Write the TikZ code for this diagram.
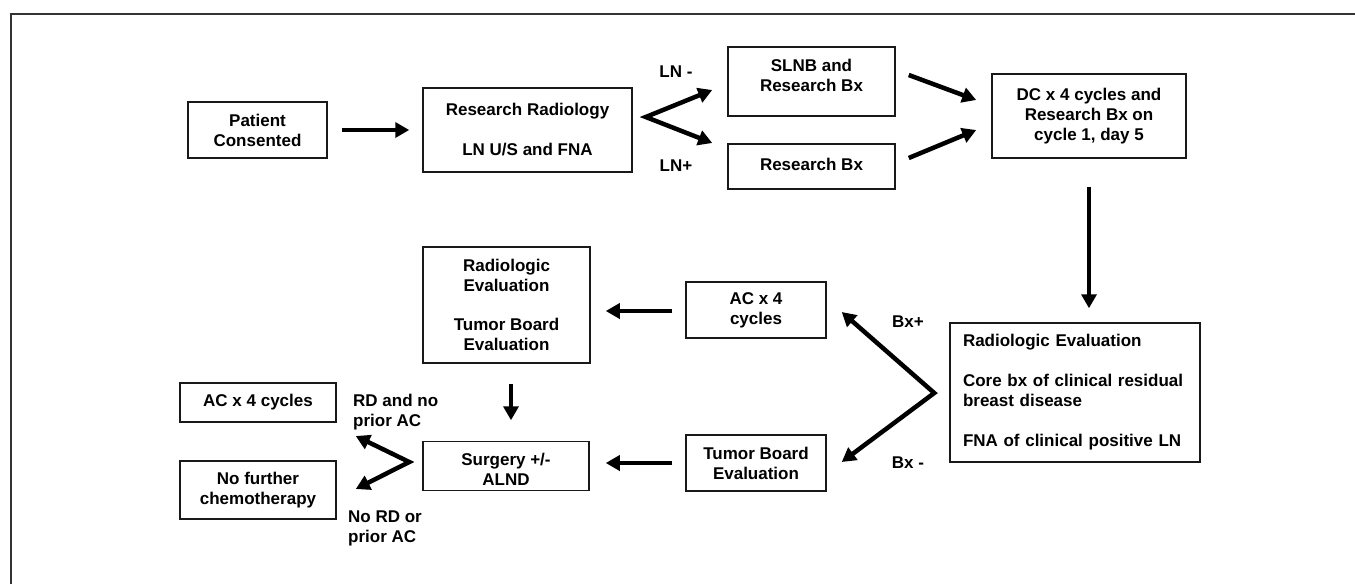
\documentclass[tikz,border=0pt]{standalone}
\usepackage{fontspec}
\setmainfont{Liberation Sans}
\usetikzlibrary{arrows.meta}
\tikzset{
  box/.style={draw=black!90, line width=1.5pt, inner sep=0pt, align=center,
    font=\fontsize{17}{20}\selectfont\bfseries},
  lbl/.style={inner sep=0pt, align=left, font=\fontsize{17}{20}\selectfont\bfseries},
  arr/.style={line width=4.5pt, -{Triangle[length=14pt,width=15pt]}},
  varr/.style={line width=4.5pt, miter limit=20, {Triangle[length=14pt,width=15pt]}-{Triangle[length=14pt,width=15pt]}},
}
\begin{document}
\begin{tikzpicture}[x=1pt,y=-1pt]
\useasboundingbox (0,0) rectangle (1355,584);
\draw[line width=1.5pt, black!80] (11,584) -- (11,14) -- (1355,14);

% boxes
\node[box, minimum width=139, minimum height=56] (pc) at (257.5,130) {Patient\\Consented};
\node[box, minimum width=209, minimum height=84] (rr) at (527.5,130) {Research Radiology\\[20pt]LN U/S and FNA};
\node[box, minimum width=167, minimum height=69] (sl) at (811.5,81.5) {SLNB and\\Research Bx\\[-8pt]};
\node[box, minimum width=167, minimum height=45] (rb) at (811.5,166.5) {\raisebox{5pt}{Research Bx}};
\node[box, minimum width=194, minimum height=84] (dc) at (1089,116) {DC x 4 cycles and\\Research Bx on\\cycle 1, day 5};
\node[box, minimum width=250, minimum height=139, text width=224pt, inner xsep=13pt, align=left] (ev) at (1075,392.5)
  {Radiologic Evaluation\\[20pt]Core bx of clinical residual\\breast disease\\[20pt]FNA of clinical positive LN};
\node[box, minimum width=140, minimum height=56] (ac) at (756,310) {AC x 4\\cycles};
\node[box, minimum width=140, minimum height=56] (tb) at (756,463) {Tumor Board\\Evaluation};
\node[box, minimum width=167, minimum height=116] (rt) at (506.5,305) {Radiologic\\Evaluation\\[19pt]Tumor Board\\Evaluation};
\node[box, minimum width=166, minimum height=49] (su) at (506,466) {Surgery +/-\\ALND\\[-26pt]};
\node[box, minimum width=156, minimum height=39] (ac2) at (258,402.5) {AC x 4 cycles};
\node[box, minimum width=156, minimum height=58] (nf) at (258,490) {No further\\chemotherapy};

% labels
\node[lbl] (lnm) at (676,72) {LN -};
\node[lbl] (lnp) at (676,166) {LN+};
\node[lbl] (bxp) at (908,322) {Bx+};
\node[lbl] (bxm) at (908,463) {Bx -};
\node[lbl, anchor=west] (rdn) at (353,412) {RD and no\\prior AC};
\node[lbl, anchor=west] (nrd) at (348,528) {No RD or\\prior AC};

% connectors
\draw[arr] ([xshift=14]pc.east) -- ([xshift=-13]rr.west);
\coordinate (v1) at ([shift={(13,-13)}]rr.east);
\draw[varr] ([shift={(-15,8.5)}]sl.west) -- (v1) -- ([shift={(-15,-23.5)}]rb.west);
\draw[arr] ([shift={(13,-6.5)}]sl.east) -- ([shift={(-15,-16)}]dc.west);
\draw[arr] ([shift={(13,-8.5)}]rb.east) -- ([shift={(-15,14)}]dc.west);
\draw[arr] ([shift={(0,28)}]dc.south) -- ([shift={(14,-14)}]ev.north);
\coordinate (v2) at ([shift={(-15,0.5)}]ev.west);
\draw[varr] ([shift={(15,2)}]ac.east) -- (v2) -- ([shift={(15,-1)}]tb.east);
\draw[arr] ([shift={(-13,1)}]ac.west) -- ([shift={(15,6)}]rt.east);
\draw[arr] ([shift={(-13,0)}]tb.west) -- ([shift={(16,-3)}]su.east);
\draw[arr] ([shift={(4.5,20)}]rt.south) -- ([shift={(5,-20.5)}]su.north);
\coordinate (v3) at ([shift={(-13,-4)}]su.west);
\draw[varr] ([shift={(19,33.5)}]ac2.east) -- (v3) -- ([shift={(19,-1)}]nf.east);
\end{tikzpicture}
\end{document}
